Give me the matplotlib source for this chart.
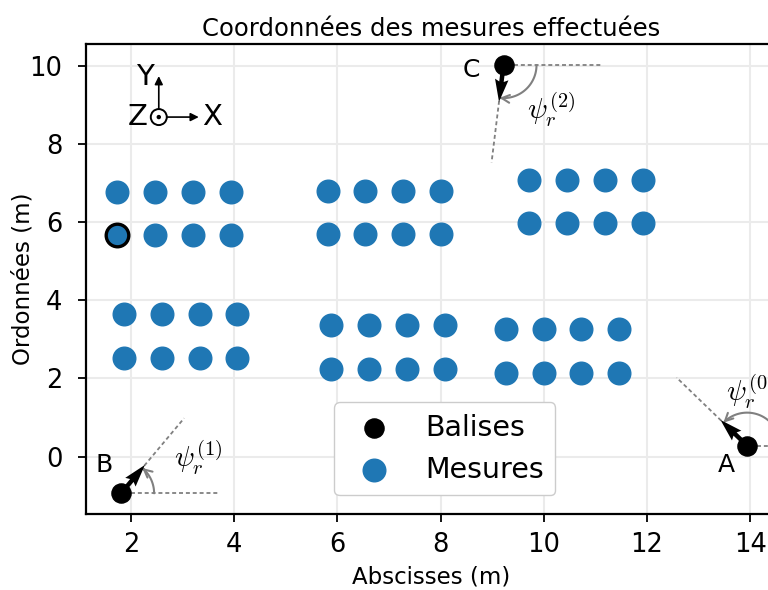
import numpy as np
import matplotlib
matplotlib.use("Agg")
import matplotlib.pyplot as plt
from matplotlib.patches import Circle, FancyArrowPatch
from matplotlib.path import Path
from matplotlib.transforms import ScaledTranslation

plt.rcParams["mathtext.fontset"] = "cm"

# balises (A, B, C) et leur cap psi_r (degres, sens trigo)
beacon_names = ["A", "B", "C"]
beacon_x = [13.94, 1.81, 9.22]
beacon_y = [0.28, -0.94, 10.02]
psi_deg = [136, 50, -97]

# points de mesure, par blocs de 4
mes_x = [1.74, 2.47, 3.20, 3.93,  1.74, 2.47, 3.20, 3.93,
         1.86, 2.60, 3.33, 4.06,  1.86, 2.60, 3.33, 4.06,
         5.81, 6.54, 7.28, 8.01,  5.81, 6.54, 7.28, 8.01,
         5.88, 6.62, 7.35, 8.08,  5.88, 6.62, 7.35, 8.08,
         9.72, 10.45, 11.18, 11.92,  9.72, 10.45, 11.18, 11.92,
         9.27, 10.00, 10.73, 11.46,  9.27, 10.00, 10.73, 11.46]
mes_y = [6.77] * 4 + [5.66] * 4 + [3.66] * 4 + [2.53] * 4 \
      + [6.81] * 4 + [5.70] * 4 + [3.36] * 4 + [2.24] * 4 \
      + [7.08] * 4 + [5.97] * 4 + [3.27] * 4 + [2.15] * 4
selected = 4  # mesure mise en evidence

fig = plt.figure(figsize=(7.68, 5.90), dpi=100)
ax = fig.add_axes([0.112, 0.1288, 0.8984, 0.7966])
ax.set_xlim(1.13, 14.5)
ax.set_ylim(-1.47, 10.56)


def at(x, y):
    """Repere en pouces centre sur un point en coordonnees donnees."""
    return fig.dpi_scale_trans + ScaledTranslation(x, y, ax.transData)


ax.scatter(beacon_x, beacon_y, s=190, color="k", zorder=4, label="Balises")
ax.scatter(mes_x, mes_y, s=265, color="tab:blue", zorder=3, label="Mesures")
ax.scatter(mes_x[selected], mes_y[selected], s=265, color="tab:blue",
           edgecolor="k", linewidth=2.4, zorder=3)

psi = np.radians(psi_deg)
ax.quiver(beacon_x, beacon_y, np.cos(psi), np.sin(psi), angles="uv",
          units="inches", scale_units="inches", scale=1 / 0.37, width=0.045,
          color="k", zorder=5)

name_off = [(-0.21, -0.19), (-0.17, 0.28), (-0.32, -0.05)]
psi_off = [(0.03, 0.54), (0.77, 0.35), (0.48, -0.45)]
L, R = 0.98, 0.33
dash = dict(ls=(0, (2.2, 1.6)), color="gray", lw=1.3, zorder=2)
for k, (bx, by, a) in enumerate(zip(beacon_x, beacon_y, psi)):
    tr = at(bx, by)
    ax.plot([0.1, L], [0, 0], transform=tr, **dash)
    ax.plot([0.36 * np.cos(a), L * np.cos(a)], [0.36 * np.sin(a), L * np.sin(a)],
            transform=tr, **dash)
    t = np.linspace(0, a, 40)
    arc = FancyArrowPatch(path=Path(np.column_stack([R * np.cos(t), R * np.sin(t)])),
                          arrowstyle="->", mutation_scale=14, color="gray",
                          lw=1.5, transform=tr, zorder=2)
    ax.add_artist(arc)
    ax.text(*name_off[k], beacon_names[k], transform=tr, fontsize=18,
            ha="center", va="center")
    ax.text(*psi_off[k], r"$\psi_r^{(%d)}$" % k, transform=tr, fontsize=21,
            ha="center", va="center")

# repere X, Y, Z (Z sortant)
tr = at(2.54, 8.69)
ax.add_artist(Circle((0, 0), 0.08, fill=False, lw=1.4, color="k", transform=tr))
ax.add_artist(Circle((0, 0), 0.015, color="k", transform=tr))
for end in [(0, 0.41), (0.40, 0)]:
    start = (0.08 * np.sign(end[0]), 0.08 * np.sign(end[1]))
    ax.add_artist(FancyArrowPatch(start, end, arrowstyle="-|>", mutation_scale=12,
                                  lw=1.2, color="k", transform=tr,
                                  shrinkA=0, shrinkB=0))
ax.text(-0.14, 0.40, "Y", transform=tr, fontsize=21, ha="center", va="center")
ax.text(-0.21, 0.0, "Z", transform=tr, fontsize=21, ha="center", va="center")
ax.text(0.53, 0.0, "X", transform=tr, fontsize=21, ha="center", va="center")

ax.set_xticks([2, 4, 6, 8, 10, 12, 14])
ax.set_yticks([0, 2, 4, 6, 8, 10])
ax.tick_params(labelsize=18.5, length=6, width=1.3)
ax.tick_params(axis="x", pad=7)
ax.tick_params(axis="y", pad=11)
ax.grid(True, color="0.92", lw=1.5)
ax.set_axisbelow(True)
for sp in ax.spines.values():
    sp.set_linewidth(1.6)

ax.set_title("Coordonnées des mesures effectuées", fontsize=17.5)
ax.set_xlabel("Abscisses (m)", fontsize=16.5, labelpad=5)
ax.set_ylabel("Ordonnées (m)", fontsize=16.5, labelpad=-4)
ax.legend(loc="lower center", bbox_to_anchor=(0.52, 0.04), borderaxespad=0,
          fontsize=20.5, framealpha=1)

fig.savefig("out.png", dpi=100)
